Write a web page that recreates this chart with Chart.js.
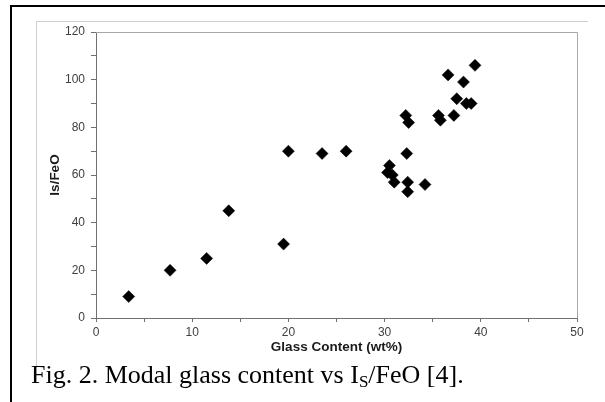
<!DOCTYPE html>
<html>
<head>
<meta charset="utf-8">
<script src="https://cdn.jsdelivr.net/npm/chart.js@4/dist/chart.umd.min.js"></script>
<style>
html,body{margin:0;padding:0;background:#fff;}
#wrap{position:relative;width:605px;height:402px;overflow:hidden;background:#fff;}
#frameTop{position:absolute;left:10px;top:5px;width:600px;height:2px;background:#000;}
#frameLeft{position:absolute;left:10px;top:5px;width:2px;height:400px;background:#000;}
#boxTop{position:absolute;left:36px;top:21px;width:552px;height:1px;background:#d0d0d0;}
#boxLeft{position:absolute;left:36px;top:21px;width:1px;height:347px;background:#d0d0d0;}
#caption{position:absolute;left:31px;top:362px;font-family:"Liberation Serif","Times New Roman",serif;font-size:26px;color:#000;white-space:nowrap;line-height:1;}
#caption sub{font-size:17px;vertical-align:-4px;}
canvas{position:absolute;left:0;top:0;}
</style>
</head>
<body>
<div id="wrap">
  <div id="frameTop"></div>
  <div id="frameLeft"></div>
  <div id="boxTop"></div>
  <div id="boxLeft"></div>
  <canvas id="c" width="605" height="402"></canvas>
  <div id="caption">Fig. 2. Modal glass content vs I<sub>S</sub>/FeO [4].</div>
</div>
<script>
const glassContent = [3.4, 7.7, 11.5, 13.8, 19.5, 20.0, 23.5, 26.0,
  30.3, 30.5, 30.8, 31.0, 32.3, 32.4, 32.4, 34.2,
  32.2, 32.5, 35.6, 35.8, 37.2, 37.5, 38.2, 36.6, 39.4, 38.5, 39.0];
const isFeO = [9, 20, 25, 45, 31, 70, 69, 70,
  61, 64, 60, 57, 69, 57, 53, 56,
  85, 82, 85, 83, 85, 92, 99, 102, 106, 90, 90];
const xTitle = 'Glass Content (wt%)';
const yTitle = 'Is/FeO';
const xRange = [0, 50];
const yRange = [0, 120];

const points = glassContent.map((x, i) => ({x: x, y: isFeO[i]}));

const frameBox = {
  id: 'frameBox',
  afterDraw(chart) {
    const a = chart.chartArea, ctx = chart.ctx;
    ctx.save();
    ctx.strokeStyle = '#a8a8a8';
    ctx.lineWidth = 1;
    ctx.beginPath();
    ctx.moveTo(a.left, a.top + 0.5);
    ctx.lineTo(a.right + 0.5, a.top + 0.5);
    ctx.lineTo(a.right + 0.5, a.bottom);
    ctx.stroke();
    ctx.restore();
  }
};

new Chart(document.getElementById('c'), {
  type: 'scatter',
  data: {
    datasets: [{
      data: points,
      pointStyle: 'rectRot',
      pointRadius: 6,
      pointHoverRadius: 6,
      backgroundColor: '#000',
      borderColor: '#000',
      borderWidth: 0.5
    }]
  },
  options: {
    responsive: false,
    animation: false,
    devicePixelRatio: 1,
    layout: {padding: {left: 40, top: 32, right: 28, bottom: 43}},
    plugins: {legend: {display: false}, tooltip: {enabled: false}},
    scales: {
      x: {
        type: 'linear',
        min: xRange[0], max: xRange[1],
        afterBuildTicks(s) { s.ticks = []; for (let v = xRange[0]; v <= xRange[1]; v += 5) s.ticks.push({value: v}); },
        afterFit(s) { s.height = 41; },
        ticks: {
          autoSkip: false, maxRotation: 0, padding: 3,
          color: '#404040',
          font: {family: 'Liberation Sans', size: 12},
          callback: v => (v % 10 === 0 ? String(v) : '')
        },
        grid: {display: true, drawOnChartArea: false, drawTicks: true, tickLength: 4, tickColor: '#707070', tickWidth: 1},
        border: {display: true, color: '#707070', width: 1},
        title: {display: true, text: xTitle, color: '#1a1a1a', font: {family: 'Liberation Sans', size: 13.5, weight: 'bold'}, padding: {top: 4, bottom: 4}}
      },
      y: {
        type: 'linear',
        min: yRange[0], max: yRange[1],
        afterBuildTicks(s) { s.ticks = []; for (let v = yRange[0]; v <= yRange[1]; v += 10) s.ticks.push({value: v}); },
        afterFit(s) { s.width = 56; },
        ticks: {
          autoSkip: false, padding: 6,
          color: '#404040',
          font: {family: 'Liberation Sans', size: 12},
          callback: v => (v % 20 === 0 ? String(v) : '')
        },
        grid: {display: true, drawOnChartArea: false, drawTicks: true, tickLength: 5, tickColor: '#707070', tickWidth: 1},
        border: {display: true, color: '#707070', width: 1},
        title: {display: true, text: yTitle, color: '#1a1a1a', font: {family: 'Liberation Sans', size: 13.5, weight: 'bold'}, padding: {top: 7, bottom: 4}}
      }
    }
  },
  plugins: [frameBox]
});
</script>
</body>
</html>
